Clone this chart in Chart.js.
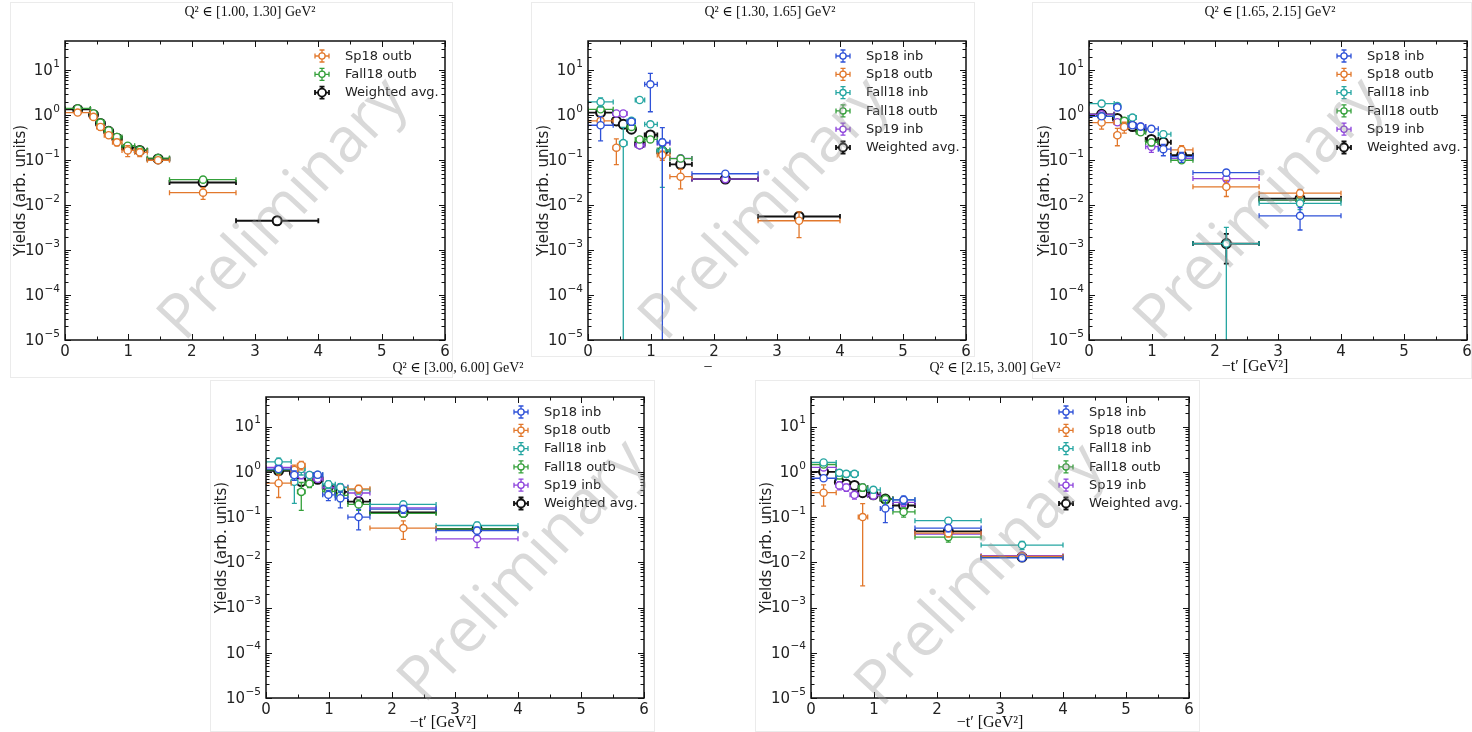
<!DOCTYPE html>
<html>
<head>
<meta charset="utf-8">
<script src="https://cdn.jsdelivr.net/npm/chart.js@4.4.1/dist/chart.umd.min.js"></script>
<style>
  html, body { margin: 0; padding: 0; background: #fff; }
  #page { position: relative; width: 1472px; height: 732px; overflow: hidden; }
  .frame { position: absolute; border: 1px solid #ebebeb; box-sizing: border-box; }
  #page canvas { position: absolute; }
</style>
</head>
<body>
<div id="page"></div>
<script>
// ========================== Datos
const seriesNames  = ['Sp18 inb', 'Sp18 outb', 'Fall18 inb', 'Fall18 outb', 'Sp19 inb', 'Weighted avg.'];
const seriesColors = ['#2f52d8', '#e2782c', '#26a6a2', '#34a03a', '#8d43dc', '#111111'];

// bins en -t' (GeV^2)
const binLo = [0.00, 0.40, 0.50, 0.62, 0.75, 0.90, 1.10, 1.30, 1.65, 2.70];
const binHi = [0.40, 0.50, 0.62, 0.75, 0.90, 1.10, 1.30, 1.65, 2.70, 4.00];
const binT  = [0.20, 0.45, 0.56, 0.69, 0.82, 0.99, 1.18, 1.47, 2.18, 3.35];

const xTicks = [0, 1, 2, 3, 4, 5, 6];
const yTicks = [1e-5, 1e-4, 1e-3, 1e-2, 1e-1, 1, 10];
const yTickBase = '10';
const yTickExp  = ['−5', '−4', '−3', '−2', '−1', '0', '1'];

const qTitles = ['Q² ∈ [1.00, 1.30] GeV²', 'Q² ∈ [1.30, 1.65] GeV²', 'Q² ∈ [1.65, 2.15] GeV²',
                 'Q² ∈ [3.00, 6.00] GeV²', 'Q² ∈ [2.15, 3.00] GeV²'];
const xTitle = '−t′ [GeV²]';

// Q2 [1.00, 1.30]
const q1Sp18outb    = [1.15, 0.92, 0.55, 0.36, 0.25, 0.165, 0.15, 0.100, 0.019, null];
const q1Sp18outbE   = [0.12, 0.12, 0.08, 0.05, 0.04, 0.045, 0.03, 0.012, 0.0055, null];
const q1Fall18outb  = [1.42, 1.10, 0.69, 0.46, 0.33, 0.21, 0.17, 0.112, 0.037, null];
const q1Fall18outbE = [0.10, 0.08, 0.05, 0.04, 0.03, 0.025, 0.02, 0.010, 0.004, null];
const q1Avg         = [1.35, 1.03, 0.66, 0.44, 0.31, 0.19, 0.165, 0.107, 0.032, 0.0045];
const q1AvgE        = [0.08, 0.07, 0.04, 0.03, 0.02, 0.018, 0.015, 0.008, 0.003, 0.0008];

// Q2 [1.30, 1.65]
const q2Sp18inb     = [0.60, null, null, 0.72, null, 4.9, 0.25, null, 0.050, null];
const q2Sp18inbE    = [0.33, null, null, 0.12, null, 3.7, 0.28, null, 0.005, null];
const q2Sp18outb    = [0.75, 0.19, null, null, null, null, 0.13, 0.043, null, 0.0045];
const q2Sp18outbE   = [0.15, 0.11, null, null, null, null, 0.03, 0.020, null, 0.0026];
const q2Fall18inb   = [1.98, null, 0.24, 0.75, 2.19, 0.63, 0.16, null, null, null];
const q2Fall18inbE  = [0.45, null, 0.30, 0.10, 0.25, 0.08, 0.135, null, null, null];
const q2Fall18outb  = [1.36, null, null, 0.55, 0.29, 0.29, 0.17, 0.109, null, null];
const q2Fall18outbE = [0.10, null, null, 0.06, 0.04, 0.04, 0.03, 0.012, null, null];
const q2Sp19inb     = [null, 1.10, 1.10, null, 0.215, null, 0.24, 0.110, 0.038, null];
const q2Sp19inbE    = [null, 0.15, 0.15, null, 0.03, null, 0.05, 0.015, 0.004, null];
const q2Avg         = [1.15, 0.75, 0.63, 0.49, 0.23, 0.365, 0.155, 0.081, 0.038, 0.0056];
const q2AvgE        = [0.12, 0.08, 0.06, 0.05, 0.02, 0.04, 0.02, 0.010, 0.003, 0.0008];

// Q2 [1.65, 2.15]
const q3Sp18inb     = [0.95, 1.50, null, 0.60, 0.56, 0.50, 0.176, 0.12, 0.053, 0.0058];
const q3Sp18inbE    = [0.10, 0.15, null, 0.08, 0.07, 0.07, 0.05, 0.03, 0.008, 0.003];
const q3Sp18outb    = [0.69, 0.36, 0.55, null, null, null, null, 0.17, 0.0256, 0.0185];
const q3Sp18outbE   = [0.20, 0.15, 0.15, null, null, null, null, 0.04, 0.010, 0.004];
const q3Fall18inb   = [1.82, 1.60, null, 0.89, null, null, 0.38, null, 0.0014, 0.011];
const q3Fall18inbE  = [0.20, 0.20, null, 0.10, null, null, 0.06, null, 0.0018, 0.003];
const q3Fall18outb  = [0.95, null, 0.75, null, 0.42, 0.25, null, 0.10, null, 0.013];
const q3Fall18outbE = [0.10, null, 0.10, null, 0.06, 0.04, null, 0.015, null, 0.003];
const q3Sp19inb     = [1.05, 0.70, 0.56, null, 0.56, 0.20, null, 0.11, 0.039, 0.013];
const q3Sp19inbE    = [0.10, 0.10, 0.08, null, 0.07, 0.05, null, 0.02, 0.006, 0.003];
const q3Avg         = [1.05, 0.85, 0.69, 0.56, 0.47, 0.29, 0.25, 0.13, 0.0014, 0.014];
const q3AvgE        = [0.08, 0.07, 0.06, 0.05, 0.04, 0.03, 0.03, 0.02, 0.0009, 0.002];

// Q2 [3.00, 6.00]
const q4Sp18inb     = [1.15, 0.85, null, null, 0.86, 0.31, 0.26, 0.10, 0.15, 0.050];
const q4Sp18inbE    = [0.15, 0.20, null, null, 0.10, 0.08, 0.10, 0.048, 0.03, 0.010];
const q4Sp18outb    = [0.56, 1.10, 1.40, null, null, null, null, 0.42, 0.057, null];
const q4Sp18outbE   = [0.29, 0.30, 0.30, null, null, null, null, 0.08, 0.025, null];
const q4Fall18inb   = [1.66, 0.60, 1.15, 0.85, 0.86, 0.53, 0.45, 0.40, 0.19, 0.065];
const q4Fall18inbE  = [0.35, 0.40, 0.30, 0.10, 0.10, 0.10, 0.10, 0.08, 0.03, 0.012];
const q4Fall18outb  = [1.10, null, 0.36, 0.55, null, 0.37, 0.30, 0.19, 0.12, 0.055];
const q4Fall18outbE = [0.15, null, 0.22, 0.10, null, 0.08, 0.08, 0.05, 0.02, 0.010];
const q4Sp19inb     = [1.25, 0.88, 0.85, 0.85, 0.70, 0.45, 0.46, 0.34, 0.16, 0.033];
const q4Sp19inbE    = [0.15, 0.15, 0.15, 0.10, 0.10, 0.08, 0.08, 0.06, 0.03, 0.012];
const q4Avg         = [1.05, 0.94, 0.61, 0.72, 0.68, 0.46, 0.36, 0.22, 0.127, 0.055];
const q4AvgE        = [0.10, 0.10, 0.08, 0.07, 0.06, 0.05, 0.05, 0.03, 0.015, 0.006];

// Q2 [2.15, 3.00]
const q5Sp18inb     = [0.72, null, null, null, null, null, 0.155, 0.24, 0.057, 0.0125];
const q5Sp18inbE    = [0.10, null, null, null, null, null, 0.08, 0.05, 0.010, 0.002];
const q5Sp18outb    = [0.345, null, null, null, 0.10, null, null, null, 0.044, 0.0135];
const q5Sp18outbE   = [0.17, null, null, null, 0.097, null, null, null, 0.008, 0.002];
const q5Fall18inb   = [1.61, 0.95, 0.90, 0.90, null, 0.40, null, 0.24, 0.083, 0.024];
const q5Fall18inbE  = [0.20, 0.15, 0.15, 0.15, null, 0.06, null, 0.04, 0.012, 0.005];
const q5Fall18outb  = [1.45, 0.83, null, null, 0.45, null, 0.25, 0.13, 0.036, 0.013];
const q5Fall18outbE = [0.20, 0.12, null, null, 0.08, null, 0.05, 0.03, 0.008, 0.002];
const q5Sp19inb     = [1.25, 0.50, 0.45, 0.31, 0.45, 0.30, null, 0.21, 0.042, 0.014];
const q5Sp19inbE    = [0.15, 0.10, 0.08, 0.06, 0.07, 0.05, null, 0.04, 0.008, 0.002];
const q5Avg         = [1.00, 0.59, 0.53, 0.50, 0.345, 0.31, 0.25, 0.18, 0.048, 0.013];
const q5AvgE        = [0.08, 0.06, 0.05, 0.05, 0.04, 0.03, 0.03, 0.02, 0.006, 0.0015];

// ========================== Paneles (posiciones en px de la página)
const panels = [
  { title: qTitles[0], plot: [65, 41, 445, 340], titleAt: [250, 12], xLabelAt: null, mark: [284, 210],
    series: [[1, q1Sp18outb, q1Sp18outbE], [3, q1Fall18outb, q1Fall18outbE], [5, q1Avg, q1AvgE]] },
  { title: qTitles[1], plot: [588, 41, 966, 340], titleAt: [770, 12], xLabelAt: [708, 368, '−'], mark: [765, 210],
    series: [[0, q2Sp18inb, q2Sp18inbE], [1, q2Sp18outb, q2Sp18outbE], [2, q2Fall18inb, q2Fall18inbE],
             [3, q2Fall18outb, q2Fall18outbE], [4, q2Sp19inb, q2Sp19inbE], [5, q2Avg, q2AvgE]] },
  { title: qTitles[2], plot: [1089, 41, 1467, 340], titleAt: [1270, 12], xLabelAt: [1255, 367, xTitle], mark: [1260, 210],
    series: [[0, q3Sp18inb, q3Sp18inbE], [1, q3Sp18outb, q3Sp18outbE], [2, q3Fall18inb, q3Fall18inbE],
             [3, q3Fall18outb, q3Fall18outbE], [4, q3Sp19inb, q3Sp19inbE], [5, q3Avg, q3AvgE]] },
  { title: qTitles[3], plot: [266, 397, 644, 698], titleAt: [458, 368], xLabelAt: [443, 723, xTitle], mark: [524, 572],
    series: [[0, q4Sp18inb, q4Sp18inbE], [1, q4Sp18outb, q4Sp18outbE], [2, q4Fall18inb, q4Fall18inbE],
             [3, q4Fall18outb, q4Fall18outbE], [4, q4Sp19inb, q4Sp19inbE], [5, q4Avg, q4AvgE]] },
  { title: qTitles[4], plot: [811, 397, 1189, 698], titleAt: [995, 368], xLabelAt: [990, 723, xTitle], mark: [981, 576],
    series: [[0, q5Sp18inb, q5Sp18inbE], [1, q5Sp18outb, q5Sp18outbE], [2, q5Fall18inb, q5Fall18inbE],
             [3, q5Fall18outb, q5Fall18outbE], [4, q5Sp19inb, q5Sp19inbE], [5, q5Avg, q5AvgE]] }
];

// marcos tenues de las imágenes pegadas
const frames = [[10, 2, 453, 378], [531, 2, 975, 357], [1032, 2, 1472, 379], [210, 380, 655, 732], [755, 380, 1200, 732]];

const PAD_L = 65, PAD_T = 41, PAD_R = 15, PAD_B = 40;
const page = document.getElementById('page');

frames.forEach(f => {
  const d = document.createElement('div');
  d.className = 'frame';
  Object.assign(d.style, { left: f[0] + 'px', top: f[1] + 'px', width: (f[2] - f[0]) + 'px', height: (f[3] - f[1]) + 'px' });
  page.appendChild(d);
});

// ========================== Barras de error (en orden de dataset, como matplotlib)
const errorBars = {
  id: 'errorBars',
  beforeDatasetDraw(chart, args) {
    const ds = chart.data.datasets[args.index];
    const { ctx, chartArea: a, scales: { x, y } } = chart;
    const cap = 2.5;
    ctx.save();
    ctx.beginPath();
    ctx.rect(a.left, a.top, a.right - a.left, a.bottom - a.top);
    ctx.clip();
    ctx.strokeStyle = ds.borderColor;
    ctx.lineWidth = ds.barWidth;
    ds.data.forEach(p => {
      const px = x.getPixelForValue(p.x), py = y.getPixelForValue(p.y);
      const x0 = x.getPixelForValue(p.lo), x1 = x.getPixelForValue(p.hi);
      const low = p.y - p.e;
      const y0 = low > 0 ? y.getPixelForValue(low) : a.bottom + 20;
      const y1 = y.getPixelForValue(p.y + p.e);
      ctx.beginPath();
      ctx.moveTo(x0, py); ctx.lineTo(x1, py);
      ctx.moveTo(x0, py - cap); ctx.lineTo(x0, py + cap);
      ctx.moveTo(x1, py - cap); ctx.lineTo(x1, py + cap);
      ctx.moveTo(px, y0); ctx.lineTo(px, y1);
      ctx.moveTo(px - cap, y1); ctx.lineTo(px + cap, y1);
      if (low > 0) { ctx.moveTo(px - cap, y0); ctx.lineTo(px + cap, y0); }
      ctx.stroke();
    });
    ctx.restore();
  }
};

function legendMarker(ctx, cx, cy, color, lw, r) {
  ctx.strokeStyle = color;
  ctx.lineWidth = lw;
  ctx.beginPath();
  ctx.moveTo(cx - 7, cy); ctx.lineTo(cx + 7, cy);
  ctx.moveTo(cx, cy - 6); ctx.lineTo(cx, cy + 6);
  ctx.moveTo(cx - 7, cy - 2.5); ctx.lineTo(cx - 7, cy + 2.5);
  ctx.moveTo(cx + 7, cy - 2.5); ctx.lineTo(cx + 7, cy + 2.5);
  ctx.moveTo(cx - 2.5, cy - 6); ctx.lineTo(cx + 2.5, cy - 6);
  ctx.moveTo(cx - 2.5, cy + 6); ctx.lineTo(cx + 2.5, cy + 6);
  ctx.stroke();
  ctx.beginPath();
  ctx.arc(cx, cy, r, 0, 2 * Math.PI);
  ctx.fillStyle = '#fff';
  ctx.fill();
  ctx.stroke();
}

// ========================== Marco, ticks hacia dentro, etiquetas, leyenda, textos
const decor = {
  id: 'decor',
  afterDraw(chart) {
    const { ctx, chartArea: a, scales: { x, y } } = chart;
    const P = chart.options.plugins.decor;
    const offX = P.offset[0], offY = P.offset[1];

    ctx.save();
    ctx.strokeStyle = '#111';
    ctx.lineWidth = 1;
    ctx.beginPath();
    for (let t = 0; t <= 6.001; t += 0.5) {
      const px = Math.round(x.getPixelForValue(t)) + 0.5;
      const len = Number.isInteger(t) ? 6 : 3.5;
      ctx.moveTo(px, a.bottom); ctx.lineTo(px, a.bottom - len);
      ctx.moveTo(px, a.top); ctx.lineTo(px, a.top + len);
    }
    for (let d = -5; d <= 1; d++) {
      for (let m = 1; m <= 9; m++) {
        const v = m * Math.pow(10, d);
        if (v > y.max) break;
        const py = Math.round(y.getPixelForValue(v)) + 0.5;
        const len = m === 1 ? 6 : 3.5;
        ctx.moveTo(a.left, py); ctx.lineTo(a.left + len, py);
        ctx.moveTo(a.right, py); ctx.lineTo(a.right - len, py);
      }
    }
    ctx.stroke();
    ctx.lineWidth = 1.5;
    ctx.strokeRect(a.left, a.top, a.right - a.left, a.bottom - a.top);

    // etiquetas del eje y: 10 con exponente
    ctx.fillStyle = '#222';
    ctx.textBaseline = 'middle';
    ctx.textAlign = 'right';
    yTicks.forEach((v, i) => {
      const py = y.getPixelForValue(v);
      const xr = a.left - 5;
      ctx.font = '10.5px "DejaVu Sans"';
      const ew = ctx.measureText(yTickExp[i]).width;
      ctx.fillText(yTickExp[i], xr, py - 6);
      ctx.font = '15px "DejaVu Sans"';
      ctx.fillText(yTickBase, xr - ew - 0.5, py + 1);
    });

    // leyenda
    const lx = a.right - 123, tx = a.right - 100;
    ctx.font = '13px "DejaVu Sans"';
    ctx.textAlign = 'left';
    chart.data.datasets.forEach((ds, i) => {
      const cy = a.top + 15 + i * 18.3;
      legendMarker(ctx, lx, cy, ds.borderColor, ds.barWidth, ds.pointRadius - 0.5);
      ctx.fillStyle = '#222';
      ctx.fillText(ds.label, tx, cy + 0.5);
    });

    // título del panel y etiqueta x
    ctx.fillStyle = '#111';
    ctx.textAlign = 'center';
    ctx.font = '14px "Liberation Serif", "DejaVu Serif", serif';
    ctx.fillText(P.title, P.titleAt[0] - offX, P.titleAt[1] - offY);
    if (P.xLabelAt) {
      ctx.font = '16px "Liberation Serif", "DejaVu Serif", serif';
      ctx.fillText(P.xLabelAt[2], P.xLabelAt[0] - offX, P.xLabelAt[1] - offY);
    }

    // marca de agua
    ctx.translate(P.mark[0] - offX, P.mark[1] - offY);
    ctx.rotate(-47 * Math.PI / 180);
    ctx.font = '62px "Open Sans", "DejaVu Sans", sans-serif';
    ctx.fillStyle = 'rgba(150,150,150,0.36)';
    ctx.fillText('Preliminary', 0, 0);
    ctx.restore();
  }
};

// ========================== Construcción de gráficas
panels.forEach(pn => {
  const [l, t, r, b] = pn.plot;
  const cv = document.createElement('canvas');
  const W = PAD_L + (r - l) + PAD_R, H = PAD_T + (b - t) + PAD_B;
  const offset = [l - PAD_L, t - PAD_T];
  cv.width = W; cv.height = H;
  cv.style.left = offset[0] + 'px';
  cv.style.top = offset[1] + 'px';
  page.appendChild(cv);

  const datasets = pn.series.map(([k, ys, es]) => ({
    label: seriesNames[k],
    data: ys.map((v, i) => v === null ? null : { x: binT[i], y: v, e: es[i], lo: binLo[i], hi: binHi[i] }).filter(Boolean),
    borderColor: seriesColors[k],
    backgroundColor: '#fff',
    pointBackgroundColor: '#fff',
    pointRadius: k === 5 ? 4.5 : 3.6,
    pointHoverRadius: k === 5 ? 4.5 : 3.6,
    pointBorderWidth: k === 5 ? 2 : 1.4,
    barWidth: k === 5 ? 1.8 : 1.3,
    showLine: false
  }));

  new Chart(cv, {
    type: 'scatter',
    data: { datasets },
    options: {
      responsive: false,
      animation: false,
      devicePixelRatio: 1,
      layout: { padding: { left: 0, top: PAD_T, right: PAD_R, bottom: 0 } },
      plugins: {
        legend: { display: false },
        tooltip: { enabled: false },
        decor: { offset, title: pn.title, titleAt: pn.titleAt, xLabelAt: pn.xLabelAt, mark: pn.mark }
      },
      scales: {
        x: {
          type: 'linear', min: 0, max: 6,
          grid: { display: false, drawTicks: false },
          border: { display: false },
          afterBuildTicks: s => { s.ticks = xTicks.map(v => ({ value: v })); },
          afterFit: s => { s.height = PAD_B; },
          ticks: { color: '#222', font: { size: 15, family: 'DejaVu Sans' }, padding: 3, maxRotation: 0 }
        },
        y: {
          type: 'logarithmic', min: 1e-5, max: 45,
          grid: { display: false, drawTicks: false },
          border: { display: false },
          afterBuildTicks: s => { s.ticks = yTicks.map(v => ({ value: v, major: true })); },
          afterFit: s => { s.width = PAD_L; },
          ticks: { display: false },
          title: { display: true, text: 'Yields (arb. units)', color: '#222', font: { size: 15, family: 'DejaVu Sans' }, padding: { top: 12 } }
        }
      }
    },
    plugins: [errorBars, decor]
  });
});
</script>
</body>
</html>
